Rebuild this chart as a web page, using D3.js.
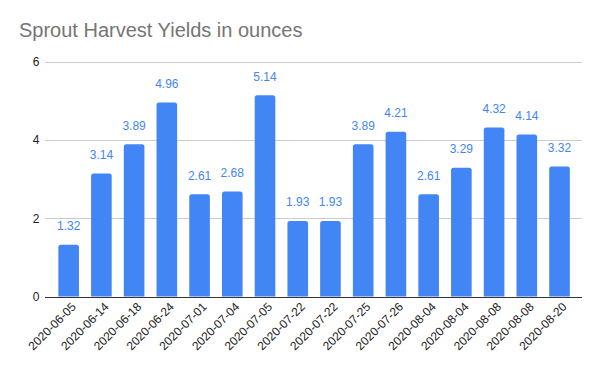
<!DOCTYPE html>
<html>
<head>
<meta charset="utf-8">
<script src="https://cdn.jsdelivr.net/npm/d3@7"></script>
<style>
  body { margin: 0; background: #fff; }
  svg { display: block; font-family: Arial, "Liberation Sans", sans-serif; }
</style>
</head>
<body>
<svg id="chart" width="600" height="371"></svg>
<script>
(function() {

  let dates = ['2020-06-05', '2020-06-14', '2020-06-18', '2020-06-24', '2020-07-01', '2020-07-04',
    '2020-07-05', '2020-07-22', '2020-07-22', '2020-07-25', '2020-07-26', '2020-08-04',
    '2020-08-04', '2020-08-08', '2020-08-08', '2020-08-20'];
  let yields = [1.32, 3.14, 3.89, 4.96, 2.61, 2.68, 5.14, 1.93, 1.93, 3.89, 4.21, 2.61, 3.29, 4.32, 4.14, 3.32];
  let yTicks = [0, 2, 4, 6];

  let svg = d3.select('#chart');

  let plotLeft = 45, plotRight = 582;
  let plotTop = 61.7, plotBottom = 296.5;

  // dates repeat, so the band scale works on indices
  let xScale = d3.scaleBand()
    .domain(d3.range(dates.length))
    .range([52.3, 575.9])
    .paddingInner(0.37)
    .paddingOuter(0.185);
  let yScale = d3.scaleLinear()
    .domain([0, 6])
    .range([plotBottom, plotTop]);

  // title
  svg.append('text')
    .attr('x', 19)
    .attr('y', 37)
    .attr('font-size', '20px')
    .attr('fill', '#757575')
    .text('Sprout Harvest Yields in ounces');

  // grid lines
  svg.append('g')
    .selectAll('line')
    .data(yTicks.filter((t) => t > 0))
    .join('line')
      .attr('x1', plotLeft)
      .attr('x2', plotRight)
      .attr('y1', (d) => Math.round(yScale(d)) + 0.5)
      .attr('y2', (d) => Math.round(yScale(d)) + 0.5)
      .attr('stroke', '#cccccc')
      .attr('stroke-width', 1);

  // y axis labels
  svg.append('g')
    .selectAll('text')
    .data(yTicks)
    .join('text')
      .attr('x', 39.5)
      .attr('y', (d) => yScale(d) + 4.5)
      .attr('text-anchor', 'end')
      .attr('font-size', '12px')
      .attr('fill', '#222')
      .text((d) => d);

  let bw = xScale.bandwidth();
  let r = 2.5;

  // bars with slightly rounded tops
  svg.append('g')
    .selectAll('path')
    .data(yields)
    .join('path')
      .attr('fill', '#4285f4')
      .attr('d', (d, i) => {
        let x0 = xScale(i), x1 = x0 + bw;
        let y0 = yScale(d), y1 = yScale(0);
        return `M${x0},${y1}V${y0 + r}Q${x0},${y0} ${x0 + r},${y0}H${x1 - r}Q${x1},${y0} ${x1},${y0 + r}V${y1}Z`;
      });

  // value labels
  svg.append('g')
    .selectAll('text')
    .data(yields)
    .join('text')
      .attr('x', (d, i) => xScale(i) + bw / 2)
      .attr('y', (d) => yScale(d) - 14.5)
      .attr('text-anchor', 'middle')
      .attr('font-size', '12px')
      .attr('fill', '#4285f4')
      .text((d) => d.toFixed(2));

  // baseline
  svg.append('line')
    .attr('x1', plotLeft)
    .attr('x2', plotRight)
    .attr('y1', Math.round(plotBottom) + 0.5)
    .attr('y2', Math.round(plotBottom) + 0.5)
    .attr('stroke', '#333')
    .attr('stroke-width', 1);

  // x axis labels, rotated
  svg.append('g')
    .selectAll('text')
    .data(dates)
    .join('text')
      .attr('transform', (d, i) => `translate(${xScale(i) + bw / 2 + 8}, ${plotBottom + 11}) rotate(-45)`)
      .attr('text-anchor', 'end')
      .attr('font-size', '12px')
      .attr('fill', '#222')
      .text((d) => d);

})();
</script>
</body>
</html>
